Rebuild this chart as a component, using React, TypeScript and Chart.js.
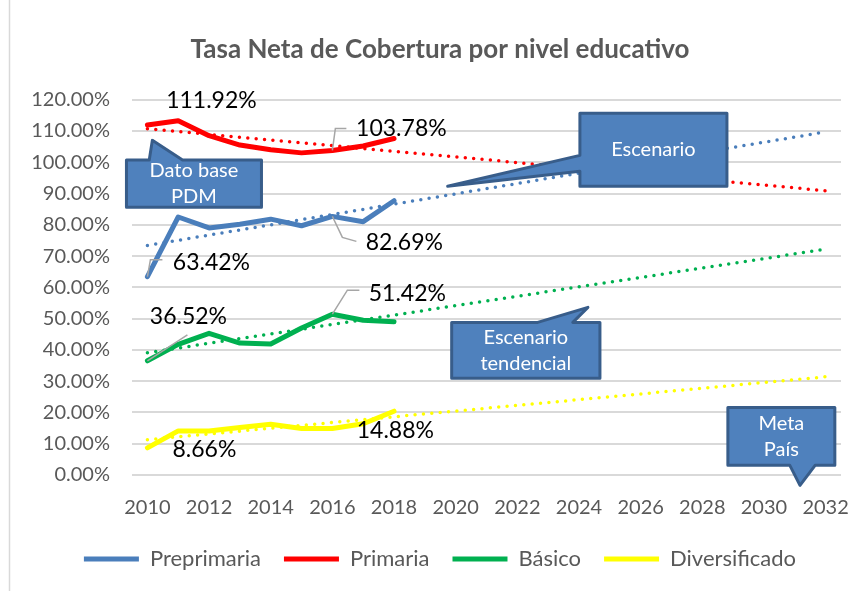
import React, { useEffect, useRef } from 'react';
import { Chart, registerables } from 'chart.js';

Chart.register(...registerables);

// ---------- DATA ----------
const years = ['2010', '2011', '2012', '2013', '2014', '2015', '2016', '2017', '2018', '2019', '2020', '2021', '2022', '2023', '2024', '2025', '2026', '2027', '2028', '2029', '2030', '2031', '2032'];
const seriesNames = ['Preprimaria', 'Primaria', 'Básico', 'Diversificado'];
const preprimaria = [63.42, 82.5, 79.0, 80.2, 81.8, 79.7, 82.69, 81.0, 87.7];
const primaria = [111.92, 113.3, 108.5, 105.5, 104.0, 103.0, 103.78, 105.2, 107.6];
const basico = [36.52, 41.8, 45.3, 42.2, 41.9, 47.0, 51.42, 49.5, 49.0];
const diversificado = [8.66, 14.1, 14.1, 15.2, 16.2, 14.9, 14.88, 16.4, 20.4];
// linear trend lines (2010 -> 2032)
const trendStart = [73.4, 110.7, 39.1, 11.3];
const trendEnd = [109.7, 90.9, 72.2, 31.4];
const yTicks = [0, 10, 20, 30, 40, 50, 60, 70, 80, 90, 100, 110, 120];
const titleText = 'Tasa Neta de Cobertura por nivel educativo';

// callouts (text lines) – geometry in data space (year, %)
const calloutTexts = [['Dato base', 'PDM'], ['Escenario'], ['Escenario', 'tendencial'], ['Meta', 'País']];

// ---------- STYLE ----------
const colors = ['#4A7EBB', '#FF0000', '#00B050', '#FFFF00'];
const FONT = 'Lato, "Open Sans", "Liberation Sans", sans-serif';

const calloutGeom = [
  { box: [2009.32, 100.7, 2013.7, 85.6], side: 'top', base: [2010.06, 2011.14], tip: [2010.16, 107.0] },
  { box: [2024.03, 115.7, 2028.8, 92.3], side: 'left', base: [102.2, 97.1], tip: [2019.74, 92.3] },
  { box: [2019.87, 48.8, 2024.68, 30.9], side: 'top', base: [2022.66, 2023.8], tip: [2024.29, 53.6] },
  { box: [2028.83, 21.6, 2032.3, 3.1], side: 'bottom', base: [2030.84, 2031.66], tip: [2031.17, -3.3] },
];

// data labels: dataset, point index, label center offset, leader polyline offsets
const labelSpecs = [
  { ds: 1, i: 0, dx: 64, dy: -24, leader: [] as number[][] },
  { ds: 1, i: 6, dx: 69, dy: -22, leader: [[3, -22], [14, -22]] },
  { ds: 0, i: 0, dx: 64, dy: -14, leader: [[3, -17], [15, -17]] },
  { ds: 0, i: 6, dx: 72, dy: 26, leader: [[10, 21], [24, 25]] },
  { ds: 2, i: 0, dx: 41, dy: -44, leader: [[40, -26]] },
  { ds: 2, i: 6, dx: 75, dy: -21, leader: [[15, -24], [27, -24]] },
  { ds: 3, i: 0, dx: 57, dy: 2, leader: [] as number[][] },
  { ds: 3, i: 6, dx: 63, dy: 2, leader: [] as number[][] },
];

const overlayPlugin = {
  id: 'overlay',
  afterDatasetsDraw(chart: any) {
    const ctx = chart.ctx;
    const xs = chart.scales.x;
    const ys = chart.scales.y;
    const x0 = xs.getPixelForValue(0);
    const step = xs.getPixelForValue(1) - x0;
    const px = (yr: number) => x0 + (yr - 2010) * step;
    const py = (v: number) => ys.getPixelForValue(v);

    ctx.save();
    // outer chart border (left edge)
    ctx.strokeStyle = '#D9D9D9';
    ctx.lineWidth = 1.5;
    ctx.beginPath();
    ctx.moveTo(9.5, 0);
    ctx.lineTo(9.5, chart.height);
    ctx.stroke();

    // data labels
    labelSpecs.forEach((s) => {
      const meta = chart.getDatasetMeta(s.ds);
      const el = meta.data[s.i];
      const val = chart.data.datasets[s.ds].data[s.i] as number;
      if (!el) return;
      const ex = el.x, ey = el.y;
      if (s.leader.length) {
        ctx.strokeStyle = '#A6A6A6';
        ctx.lineWidth = 1.5;
        ctx.beginPath();
        ctx.moveTo(ex, ey);
        s.leader.forEach((p) => ctx.lineTo(ex + p[0], ey + p[1]));
        ctx.stroke();
      }
      ctx.fillStyle = '#000000';
      ctx.font = `23px ${FONT}`;
      ctx.textAlign = 'center';
      ctx.textBaseline = 'middle';
      ctx.fillText(val.toFixed(2) + '%', ex + s.dx, ey + s.dy);
    });

    // callouts
    calloutGeom.forEach((c, k) => {
      const L = px(c.box[0]), T = py(c.box[1]), R = px(c.box[2]), B = py(c.box[3]);
      const tx = px(c.tip[0]), ty = py(c.tip[1]);
      ctx.beginPath();
      ctx.moveTo(L, T);
      if (c.side === 'top') {
        ctx.lineTo(px(c.base[0]), T);
        ctx.lineTo(tx, ty);
        ctx.lineTo(px(c.base[1]), T);
      }
      ctx.lineTo(R, T);
      ctx.lineTo(R, B);
      if (c.side === 'bottom') {
        ctx.lineTo(px(c.base[1]), B);
        ctx.lineTo(tx, ty);
        ctx.lineTo(px(c.base[0]), B);
      }
      ctx.lineTo(L, B);
      if (c.side === 'left') {
        ctx.lineTo(L, py(c.base[1]));
        ctx.lineTo(tx, ty);
        ctx.lineTo(L, py(c.base[0]));
      }
      ctx.closePath();
      ctx.fillStyle = '#4F81BD';
      ctx.fill();
      ctx.lineJoin = 'round';
      ctx.strokeStyle = '#385D8A';
      ctx.lineWidth = 3;
      ctx.stroke();

      const lines = calloutTexts[k];
      const lh = 26;
      const cx = (L + R) / 2, cy = (T + B) / 2;
      ctx.fillStyle = '#FFFFFF';
      ctx.font = `20px ${FONT}`;
      ctx.textAlign = 'center';
      ctx.textBaseline = 'middle';
      lines.forEach((t, j) => {
        ctx.fillText(t, cx, cy + (j - (lines.length - 1) / 2) * lh);
      });
    });
    ctx.restore();
  },
};

export default function App() {
  const ref = useRef<HTMLCanvasElement | null>(null);

  useEffect(() => {
    document.body.style.margin = '0';
    const mainData = [preprimaria, primaria, basico, diversificado];
    const last = years.length - 1;
    const datasets: any[] = mainData.map((d, k) => ({
      label: seriesNames[k],
      data: d,
      borderColor: colors[k],
      backgroundColor: colors[k],
      borderWidth: 5,
      borderCapStyle: 'round',
      borderJoinStyle: 'round',
      pointRadius: 0,
      pointHoverRadius: 0,
      tension: 0,
      yAxisID: 'y',
    }));
    trendStart.forEach((s, k) => {
      datasets.push({
        label: seriesNames[k] + ' tendencia',
        data: years.map((_, i) => (i === 0 ? s : i === last ? trendEnd[k] : null)),
        borderColor: colors[k],
        backgroundColor: colors[k],
        borderWidth: 3.5,
        borderDash: [0, 8.4],
        borderCapStyle: 'round',
        pointRadius: 0,
        pointHoverRadius: 0,
        spanGaps: true,
        tension: 0,
        yAxisID: 'y',
      });
    });

    const chart = new Chart(ref.current as HTMLCanvasElement, {
      type: 'line',
      data: { labels: years, datasets },
      plugins: [overlayPlugin],
      options: {
        animation: false,
        responsive: false,
        maintainAspectRatio: false,
        layout: { padding: { left: 23, right: 0, top: 0, bottom: 11 } },
        font: { family: FONT },
        plugins: {
          tooltip: { enabled: false },
          title: {
            display: true,
            text: titleText,
            color: '#595959',
            font: { family: FONT, size: 26, weight: 'bold' },
            padding: { top: 34, bottom: 34.5 },
          },
          legend: {
            position: 'bottom',
            labels: {
              usePointStyle: true,
              pointStyle: 'line',
              pointStyleWidth: 55,
              boxWidth: 55,
              color: '#595959',
              font: { family: FONT, size: 22 },
              padding: 23,
              filter: (item: any) => item.datasetIndex < 4,
            },
          },
        },
        scales: {
          x: {
            type: 'category',
            offset: true,
            grid: { display: false, drawTicks: false },
            border: { display: false },
            ticks: {
              autoSkip: false,
              maxRotation: 0,
              minRotation: 0,
              padding: 21,
              color: '#595959',
              font: { family: FONT, size: 20 },
              callback: (_v: any, i: number) => (i % 2 === 0 ? years[i] : ''),
            },
            afterFit: (s: any) => { s.height = 50; s.paddingRight = 0; s.paddingLeft = 0; },
          },
          y: {
            position: 'left',
            min: 0,
            max: 120,
            afterBuildTicks: (s: any) => { s.ticks = yTicks.map((v) => ({ value: v })); },
            grid: { color: '#D9D9D9', lineWidth: 2, drawTicks: false },
            border: { display: false },
            ticks: {
              padding: 22,
              color: '#595959',
              font: { family: FONT, size: 20 },
              callback: (v: any) => Number(v).toFixed(2) + '%',
            },
            afterFit: (s: any) => { s.width = 109; },
          },
          yr: {
            position: 'right',
            display: true,
            grid: { display: false, drawTicks: false },
            border: { display: false },
            ticks: { display: false },
            afterFit: (s: any) => { s.width = 16; },
          },
        },
      } as any,
    });
    return () => chart.destroy();
  }, []);

  return (
    <div style={{ position: 'fixed', left: 0, top: 0, width: 857, height: 591, background: '#fff' }}>
      <canvas ref={ref} width={857} height={591} style={{ width: 857, height: 591, display: 'block' }} />
    </div>
  );
}
